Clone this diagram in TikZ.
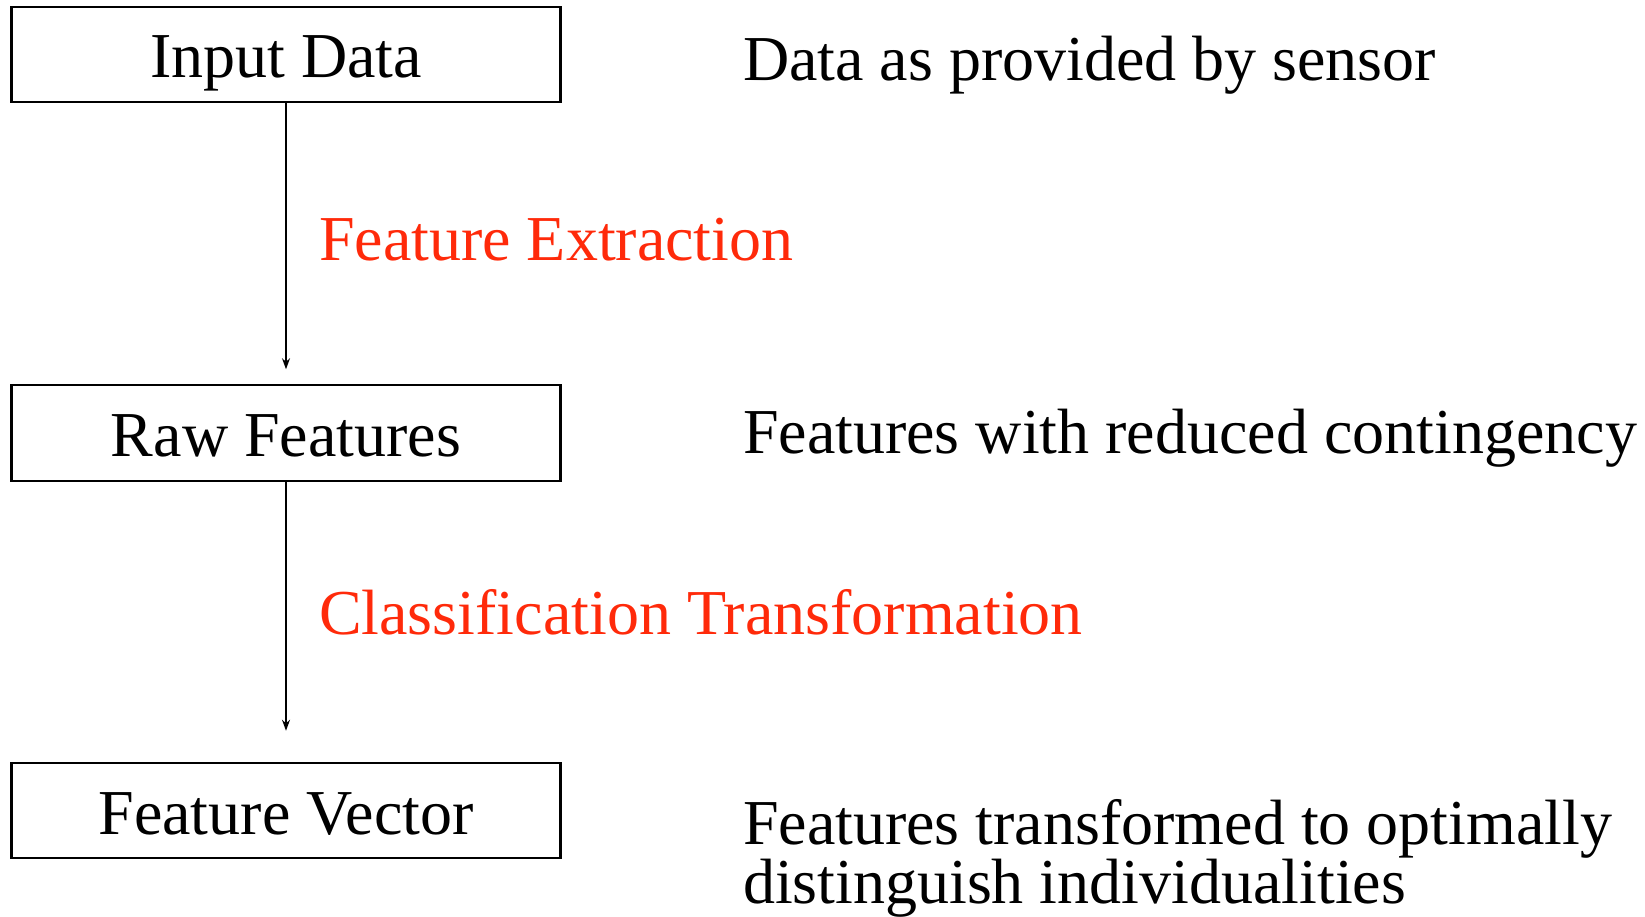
\documentclass[tikz,border=0pt]{standalone}
\usepackage{fontspec}
\setmainfont{Liberation Serif}
\usetikzlibrary{arrows.meta}
\definecolor{labred}{HTML}{FF2A0A}
\begin{document}
\begin{tikzpicture}[x=1pt,y=-1pt,
  every node/.style={inner sep=0pt,outer sep=0pt,font=\fontsize{64}{59}\selectfont},
  stagebox/.style={draw,line width=2.2pt,minimum width=549pt,minimum height=95.5pt,text height=47pt,text depth=0pt,anchor=center},
  desc/.style={anchor=base west,align=left},
  steplabel/.style={anchor=base west,text=labred},
  flow/.style={line width=1.3pt,-{Stealth[length=11pt,width=8pt]}}]
\useasboundingbox (0,0) rectangle (1645,917);
\node[stagebox] (in) at (286,54.4) {Input Data};
\node[stagebox] (raw) at (286,433) {Raw Features};
\node[stagebox] (vec) at (286,810.5) {Feature Vector};
\draw[flow,shorten >=16pt] (in) -- (raw);
\draw[flow,shorten >=32pt] (raw) -- (vec);
\node[steplabel] (fe) at (319,260) {Feature Extraction};
\node[steplabel] (ct) at (319,634) {Classification Transformation};
\node[desc] (d1) at (743,81) {Data as provided by sensor};
\node[desc] (d2) at (743,453) {Features with reduced contingency};
\node[desc,anchor=north west,text height=45pt] (d3) at (743,858) {Features transformed to optimally\\distinguish individualities};
\end{tikzpicture}
\end{document}
